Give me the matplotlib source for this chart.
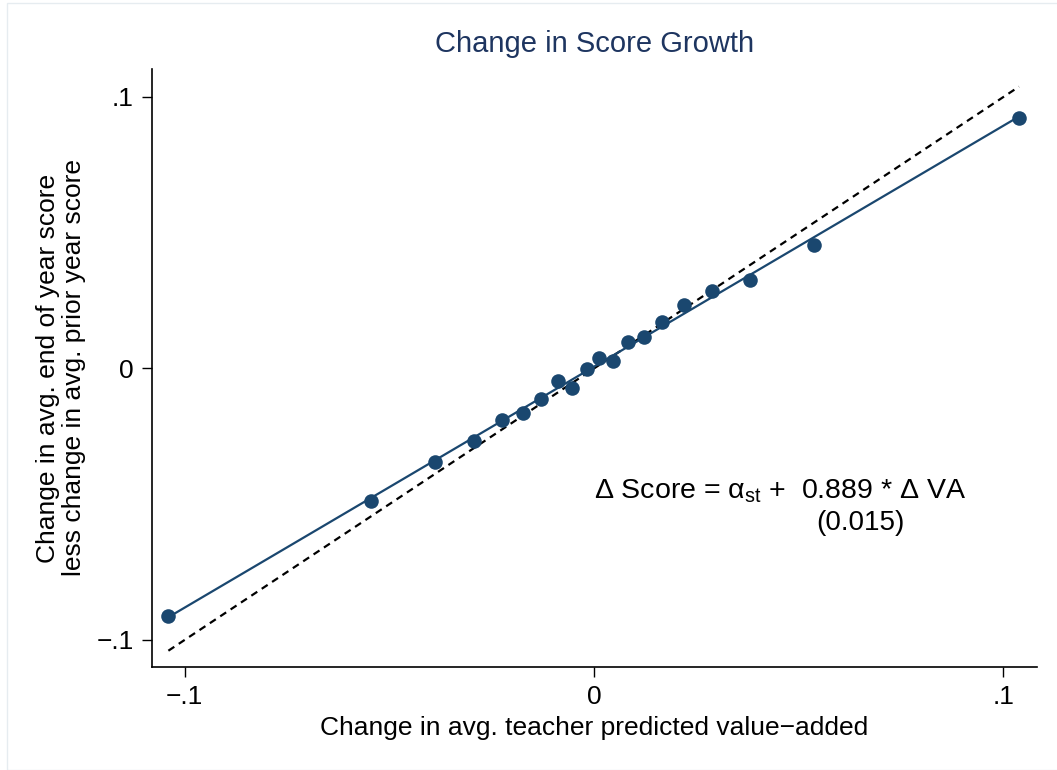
import numpy as np
import matplotlib
matplotlib.use("Agg")
import matplotlib.pyplot as plt
from matplotlib.patches import Rectangle

# Binned scatter data
x_vals = [-0.1040, -0.0545, -0.0388, -0.0293, -0.0225, -0.0173, -0.0129, -0.0088,
          -0.0054, -0.0017, 0.0012, 0.0046, 0.0083, 0.0122, 0.0166, 0.0220,
          0.0288, 0.0380, 0.0537, 0.1038]
y_vals = [-0.0912, -0.0488, -0.0344, -0.0267, -0.0190, -0.0164, -0.0112, -0.0046,
          -0.0072, -0.0002, 0.0039, 0.0028, 0.0098, 0.0116, 0.0171, 0.0234,
          0.0285, 0.0326, 0.0455, 0.0923]
x_ticks = [-0.1, 0.0, 0.1]
x_ticklabels = ["\u2212.1", "0", ".1"]
y_ticks = [-0.1, 0.0, 0.1]
y_ticklabels = ["\u2212.1", "0", ".1"]

plt.rcParams['font.family'] = ['Liberation Sans', 'DejaVu Sans']
plt.rcParams['mathtext.fontset'] = 'custom'
plt.rcParams['mathtext.rm'] = 'Liberation Sans'
plt.rcParams['mathtext.it'] = 'Liberation Sans'
plt.rcParams['mathtext.bf'] = 'Liberation Sans:bold'

fig = plt.figure(figsize=(10.57, 7.70), dpi=100)
fig.patches.append(Rectangle((7/1057, 0), 1.2, (770-3)/770, transform=fig.transFigure,
                             fill=False, edgecolor='#e6ecf0', linewidth=1.0))
ax = fig.add_axes([152/1057, 1-667/770, (1037-152)/1057, (667-69)/770])

navy = '#1a476f'
x = np.array(x_vals)
y = np.array(y_vals)
b, a = np.polyfit(x, y, 1)
xl = np.array([x.min(), x.max()])
ax.plot(xl, xl, linestyle=(0, (3.2, 2.4)), color='black', linewidth=1.6, zorder=2)
ax.plot(xl, a + b * xl, color=navy, linewidth=1.6, zorder=3)
ax.scatter(x, y, s=110, color=navy, zorder=4, linewidths=0)

ax.set_xlim(-0.108, 0.1082)
ax.set_ylim(-0.110, 0.1103)
ax.spines['top'].set_visible(False)
ax.spines['right'].set_visible(False)
for s in ['left', 'bottom']:
    ax.spines[s].set_linewidth(1.2)
ax.set_xticks(x_ticks)
ax.set_xticklabels(x_ticklabels)
ax.set_yticks(y_ticks)
ax.set_yticklabels(y_ticklabels)
ax.tick_params(axis='both', length=7, width=1.0, labelsize=19, pad=6)

ax.set_xlabel("Change in avg. teacher predicted value\u2212added", fontsize=19, labelpad=5)
ax.set_ylabel("Change in avg. end of year score\nless change in avg. prior year score",
              fontsize=19, labelpad=8, linespacing=1.1)
ax.set_title("Change in Score Growth", fontsize=21, color='#1e3560', pad=12)

ax.text(0.0, -0.0478, r"$\Delta$ Score = $\alpha_{\rm st}$ +  0.889 * $\Delta$ VA",
        fontsize=20.5, ha='left', va='baseline')
ax.text(0.065, -0.0595, "(0.015)", fontsize=20, ha='center', va='baseline')

fig.savefig("out.png", dpi=100)
